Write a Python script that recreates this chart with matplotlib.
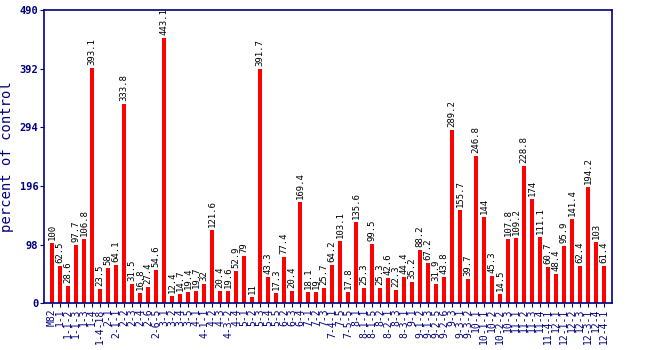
import matplotlib
matplotlib.use("Agg")
import matplotlib.pyplot as plt

# === DATA ===
lines = ["M82", "1-1", "1-1-2", "1-1-3", "1-3", "1-4", "1-4-18", "2-1", "2-1-1", "2-2",
         "2-3", "2-4", "2-6", "2-6-5", "3-1", "3-2", "3-4", "3-5", "4-1", "4-1-1",
         "4-2", "4-3", "4-3-2", "4-4", "5-1", "5-2", "5-3", "5-4", "5-5", "6-2",
         "6-3", "6-4", "7-1", "7-2", "7-3", "7-4-1", "7-5", "7-5-5", "8-1", "8-1-1",
         "8-1-5", "8-2", "8-2-1", "8-3", "8-3-1", "9-1", "9-1-2", "9-1-3", "9-2-5", "9-2-6",
         "9-3", "9-3-1", "9-3-2", "10-1", "10-1-1", "10-2", "10-2-2", "10-3", "11-1", "11-2",
         "11-3", "11-4", "11-4-1", "12-1", "12-1-1", "12-2", "12-3", "12-3-1", "12-4", "12-4-1"]
values = [100, 62.5, 28.6, 97.7, 106.8, 393.1, 23.5, 58, 64.1, 333.8,
          31.5, 16.8, 27.4, 54.6, 443.1, 12.4, 14.7, 19.4, 19.7, 32,
          121.6, 20.4, 19.6, 52.9, 79, 11, 391.7, 43.3, 17.3, 77.4,
          20.4, 169.4, 18.1, 19, 25.7, 64.2, 103.1, 17.8, 135.6, 25.3,
          99.5, 25.3, 42.6, 22.3, 44.4, 35.2, 88.2, 67.2, 31.9, 43.8,
          289.2, 155.7, 39.7, 246.8, 144, 45.3, 14.5, 107.8, 109.2, 228.8,
          174, 111.1, 60.7, 48.4, 95.9, 141.4, 62.4, 194.2, 103, 61.4]
yticks = [0, 98, 196, 294, 392, 490]

navy = "#000080"
mono = "DejaVu Sans Mono"

fig = plt.figure(figsize=(6.5, 3.5), dpi=100)
ax = fig.add_axes([0.0677, 0.134, 0.874, 0.837])

x = list(range(len(values)))
ax.bar(x, values, width=0.5, color="#ff0000")

for xi, v in zip(x, values):
    ax.text(xi, v + 5, f"{v:g}", rotation=90, ha="center", va="bottom",
            fontsize=6.5, family=mono, color="black")

ax.set_xlim(-1, len(values))
ax.set_ylim(0, 490)
ax.set_yticks(yticks)
ax.set_yticklabels([str(t) for t in yticks], family=mono, fontsize=7.5,
                   color=navy, fontweight="bold")
ax.set_xticks(x)
ax.set_xticklabels(lines, rotation=90, family=mono, fontsize=7, color=navy)
ax.set_ylabel("percent of control", family=mono, fontsize=10, color=navy)

for s in ax.spines.values():
    s.set_color(navy)
    s.set_linewidth(1.2)
ax.tick_params(axis="both", colors=navy, length=3, pad=1)

fig.savefig("out.png", dpi=100)
